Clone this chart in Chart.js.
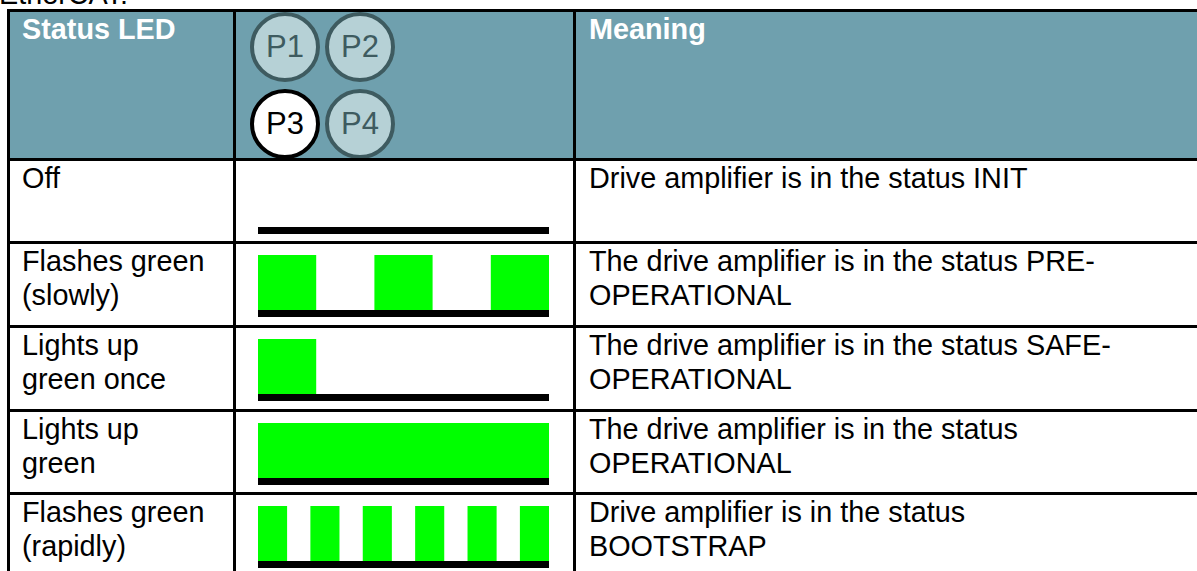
<!DOCTYPE html>
<html lang="en">
<head>
    <meta charset="UTF-8">
    <title>EtherCAT status LED</title>
    <script src="https://cdn.jsdelivr.net/npm/chart.js"></script>
    <style>
        html, body {
            margin: 0;
            padding: 0;
            background: #ffffff;
            overflow: hidden;
            width: 1197px;
            height: 571px;
            font-family: "Liberation Sans", Arial, sans-serif;
        }
        .caption {
            position: absolute;
            left: -1px;
            top: -23px;
            font-size: 28.8px;
            line-height: 34px;
            color: #000;
        }
        .led-table {
            position: absolute;
            left: 7px;
            top: 9px;
            display: grid;
            grid-template-columns: 226px 340px 644px;
            grid-template-rows: 149px 83px 84px 84px 83px 84px;
            border-left: 3px solid #000;
            border-top: 3px solid #000;
        }
        .cell {
            position: relative;
            box-sizing: border-box;
            border-right: 3px solid #000;
            border-bottom: 3px solid #000;
            font-size: 28.8px;
            line-height: 34px;
            color: #000;
            white-space: nowrap;
            overflow: hidden;
        }
        .cell.label { padding-left: 12px; }
        .cell.meaning { padding-left: 13px; }
        .cell.head {
            background: #6fa0ae;
            color: #ffffff;
            font-weight: bold;
        }
        .led-chart {
            position: absolute;
            left: 22px;
            top: 11px;
            width: 291px;
            height: 62px;
        }
        .port {
            position: absolute;
            width: 70px;
            height: 70px;
            box-sizing: border-box;
            border-radius: 50%;
            border: 4px solid #3e5b60;
            background: #b6d1d6;
            color: #3e5b60;
            font-weight: normal;
            font-size: 31px;
            line-height: 62px;
            text-align: center;
        }
        .port.active {
            background: #ffffff;
            border-color: #000000;
            color: #000000;
        }
    </style>
</head>
<body>
    <div class="caption">EtherCAT:</div>
    <div class="led-table" id="ledTable"></div>

    <script>
        // table content
        const headers = ['Status LED', '', 'Meaning'];
        const ports = ['P1', 'P2', 'P3', 'P4'];
        const activePort = 'P3';

        const statusLabels = [
            ['Off'],
            ['Flashes green', '(slowly)'],
            ['Lights up', 'green once'],
            ['Lights up', 'green'],
            ['Flashes green', '(rapidly)']
        ];

        // LED on-intervals on a time axis from 0 to 10
        const timeAxis = [0, 10];
        const ledPatterns = [
            [],
            [[0, 2], [4, 6], [8, 10]],
            [[0, 2]],
            [[0, 10]],
            [[0, 1], [1.8, 2.8], [3.6, 4.6], [5.4, 6.4], [7.2, 8.2], [9, 10]]
        ];

        const meanings = [
            ['Drive amplifier is in the status INIT'],
            ['The drive amplifier is in the status PRE-', 'OPERATIONAL'],
            ['The drive amplifier is in the status SAFE-', 'OPERATIONAL'],
            ['The drive amplifier is in the status', 'OPERATIONAL'],
            ['Drive amplifier is in the status', 'BOOTSTRAP']
        ];

        const table = document.getElementById('ledTable');

        function addCell(cls, lines) {
            const div = document.createElement('div');
            div.className = 'cell ' + cls;
            lines.forEach((line, i) => {
                if (i > 0) div.appendChild(document.createElement('br'));
                div.appendChild(document.createTextNode(line));
            });
            table.appendChild(div);
            return div;
        }

        // header row
        addCell('head label', [headers[0]]);
        const portCell = addCell('head', []);
        const portPos = [[14, 0], [89, 0], [14, 77], [89, 77]];
        ports.forEach((p, i) => {
            const d = document.createElement('div');
            d.className = 'port' + (p === activePort ? ' active' : '');
            d.style.left = portPos[i][0] + 'px';
            d.style.top = portPos[i][1] + 'px';
            d.textContent = p;
            portCell.appendChild(d);
        });
        addCell('head meaning', [headers[2]]);

        function drawPattern(canvas, pattern) {
            return new Chart(canvas, {
                type: 'bar',
                data: {
                    datasets: [
                        {
                            label: 'LED on',
                            data: pattern.map(p => ({ x: p, y: 'LED' })),
                            yAxisID: 'y',
                            backgroundColor: '#00ff00',
                            borderWidth: 0,
                            inflateAmount: 0,
                            grouped: false,
                            barPercentage: 1,
                            categoryPercentage: 1
                        },
                        {
                            label: 'time',
                            data: [{ x: timeAxis, y: 'time' }],
                            yAxisID: 'yTime',
                            backgroundColor: '#000000',
                            borderWidth: 0,
                            inflateAmount: 0,
                            grouped: false,
                            barPercentage: 1,
                            categoryPercentage: 1
                        }
                    ]
                },
                options: {
                    indexAxis: 'y',
                    responsive: true,
                    maintainAspectRatio: false,
                    animation: false,
                    layout: { padding: 0 },
                    plugins: {
                        legend: { display: false },
                        tooltip: { enabled: false }
                    },
                    scales: {
                        x: { type: 'linear', min: timeAxis[0], max: timeAxis[1], display: false },
                        y: {
                            type: 'category', labels: ['LED'], position: 'left',
                            display: false, stack: 'led', stackWeight: 55, weight: 2
                        },
                        yTime: {
                            type: 'category', labels: ['time'], position: 'left',
                            display: false, stack: 'led', stackWeight: 7, weight: 1
                        }
                    }
                }
            });
        }

        statusLabels.forEach((label, i) => {
            addCell('label', label);
            const mid = addCell('', []);
            const wrap = document.createElement('div');
            wrap.className = 'led-chart';
            const canvas = document.createElement('canvas');
            wrap.appendChild(canvas);
            mid.appendChild(wrap);
            addCell('meaning', meanings[i]);
            drawPattern(canvas, ledPatterns[i]);
        });
    </script>
</body>
</html>
